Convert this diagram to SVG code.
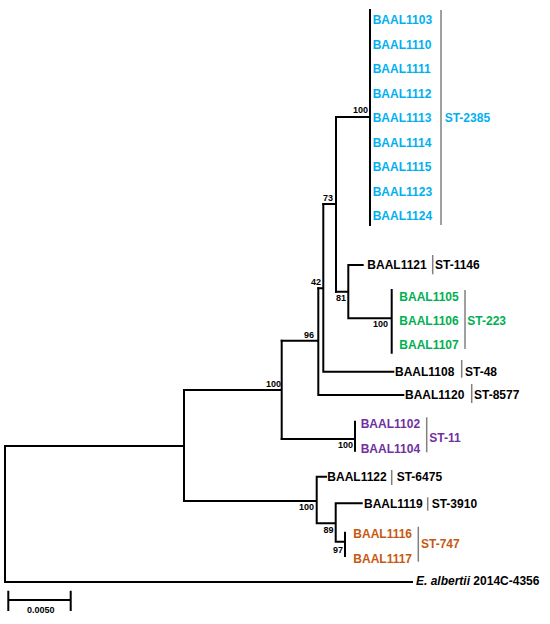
<svg xmlns="http://www.w3.org/2000/svg" width="550" height="624" viewBox="0 0 550 624">
<style>
.br{fill:none;stroke:#000;stroke-width:2;stroke-linecap:square}
.bar{fill:none;stroke:#808080;stroke-width:1.5}
text{font-family:"Liberation Sans",Arial,sans-serif;font-weight:bold}
.lf{font-size:12px}
.bs{font-size:9px;text-anchor:end;fill:#000}
.k{fill:#000}.b{fill:#00B0F0}.g{fill:#00B050}.p{fill:#7030A0}.o{fill:#C65911}
</style>
<rect width="550" height="624" fill="#fff"/>
<g id="connectors">
<path class="br" d="M184,446 H5 V582 H412"/>
<path class="br" d="M184,390 V501"/>
<path class="br" d="M184,390 H281.7 M281.7,340.7 V439"/>
<path class="br" d="M281.7,340.7 H318.3 M318.3,288.3 V395 M318.3,395 H403.3"/>
<path class="br" d="M318.3,288.3 H323.3 M323.3,204 V371.7 M323.3,371.7 H393.3"/>
<path class="br" d="M323.3,204 H336 M336,117 V291.7 M336,117 H370 M370,10 V225"/>
<path class="br" d="M336,291.7 H348.3 M348.3,265 V318.3 M348.3,265 H362.7 M348.3,318.3 H391.7 M391.7,290 V352.7"/>
<path class="br" d="M281.7,439 H355 M355,421.7 V450.7"/>
<path class="br" d="M184,501 H316.7 M316.7,476.7 V523.3 M316.7,476.7 H326 M316.7,523.3 H335.7 M335.7,503.3 V541.7 M335.7,503.3 H361.7 M335.7,541.7 H345 M345,532.7 V556"/>
</g>
<g id="bootstrap">
<text class="bs" x="368" y="113.2">100</text>
<text class="bs" x="333" y="200.5">73</text>
<text class="bs" x="346" y="300.9">81</text>
<text class="bs" x="321" y="284.9">42</text>
<text class="bs" x="314" y="338.2">96</text>
<text class="bs" x="281" y="387.2">100</text>
<text class="bs" x="388" y="327.2">100</text>
<text class="bs" x="353" y="448.2">100</text>
<text class="bs" x="314" y="509.9">100</text>
<text class="bs" x="333.5" y="533.2">89</text>
<text class="bs" x="343" y="553.2">97</text>
</g>
<g id="st2385" class="lf b">
<text x="372.7" y="24.3">BAAL1103</text>
<text x="372.7" y="48.8">BAAL1110</text>
<text x="372.7" y="73.3">BAAL1111</text>
<text x="372.7" y="97.8">BAAL1112</text>
<text x="372.7" y="122.3">BAAL1113</text>
<text x="372.7" y="146.8">BAAL1114</text>
<text x="372.7" y="171.3">BAAL1115</text>
<text x="372.7" y="195.8">BAAL1123</text>
<text x="372.7" y="220.3">BAAL1124</text>
<path class="bar" d="M441,10 V225"/>
<text x="444.7" y="122.3">ST-2385</text>
</g>
<g id="baal1121" class="lf k">
<text x="367.3" y="269.3">BAAL1121</text>
<path class="bar" d="M432.7,255 V274.3"/>
<text x="435" y="269.3">ST-1146</text>
</g>
<g id="st223" class="lf g">
<text x="399.3" y="301">BAAL1105</text>
<text x="399.3" y="325">BAAL1106</text>
<text x="399.3" y="349.3">BAAL1107</text>
<path class="bar" d="M465,290 V349"/>
<text x="467.3" y="325">ST-223</text>
</g>
<g id="baal1108" class="lf k">
<text x="395" y="376">BAAL1108</text>
<path class="bar" d="M461.7,360 V377.7"/>
<text x="465" y="376">ST-48</text>
</g>
<g id="baal1120" class="lf k">
<text x="405" y="399.3">BAAL1120</text>
<path class="bar" d="M471.7,384 V403"/>
<text x="474" y="399.3">ST-8577</text>
</g>
<g id="st11" class="lf p">
<text x="360.7" y="428.3">BAAL1102</text>
<text x="360.7" y="452.6">BAAL1104</text>
<path class="bar" d="M426.7,417.3 V452.3"/>
<text x="429.3" y="441.6">ST-11</text>
</g>
<g id="baal1122" class="lf k">
<text x="327.3" y="481">BAAL1122</text>
<path class="bar" d="M391.7,470 V485"/>
<text x="396.7" y="481">ST-6475</text>
</g>
<g id="baal1119" class="lf k">
<text x="364" y="507.6">BAAL1119</text>
<path class="bar" d="M427.7,497.3 V510.7"/>
<text x="431.7" y="507.6">ST-3910</text>
</g>
<g id="st747" class="lf o">
<text x="353.3" y="537.6">BAAL1116</text>
<text x="353.3" y="562.6">BAAL1117</text>
<path class="bar" d="M418.3,526.7 V561.7"/>
<text x="421" y="547.6">ST-747</text>
</g>
<g id="outgroup" class="lf k">
<text x="416" y="585"><tspan font-style="italic">E. albertii</tspan> 2014C-4356</text>
</g>
<g id="scalebar">
<path class="br" d="M8.3,600 H70.7 M8.3,591.7 V610 M70.7,591.7 V610" stroke-linecap="butt"/>
<text x="40.8" y="612.5" font-size="9" text-anchor="middle">0.0050</text>
</g>
</svg>
